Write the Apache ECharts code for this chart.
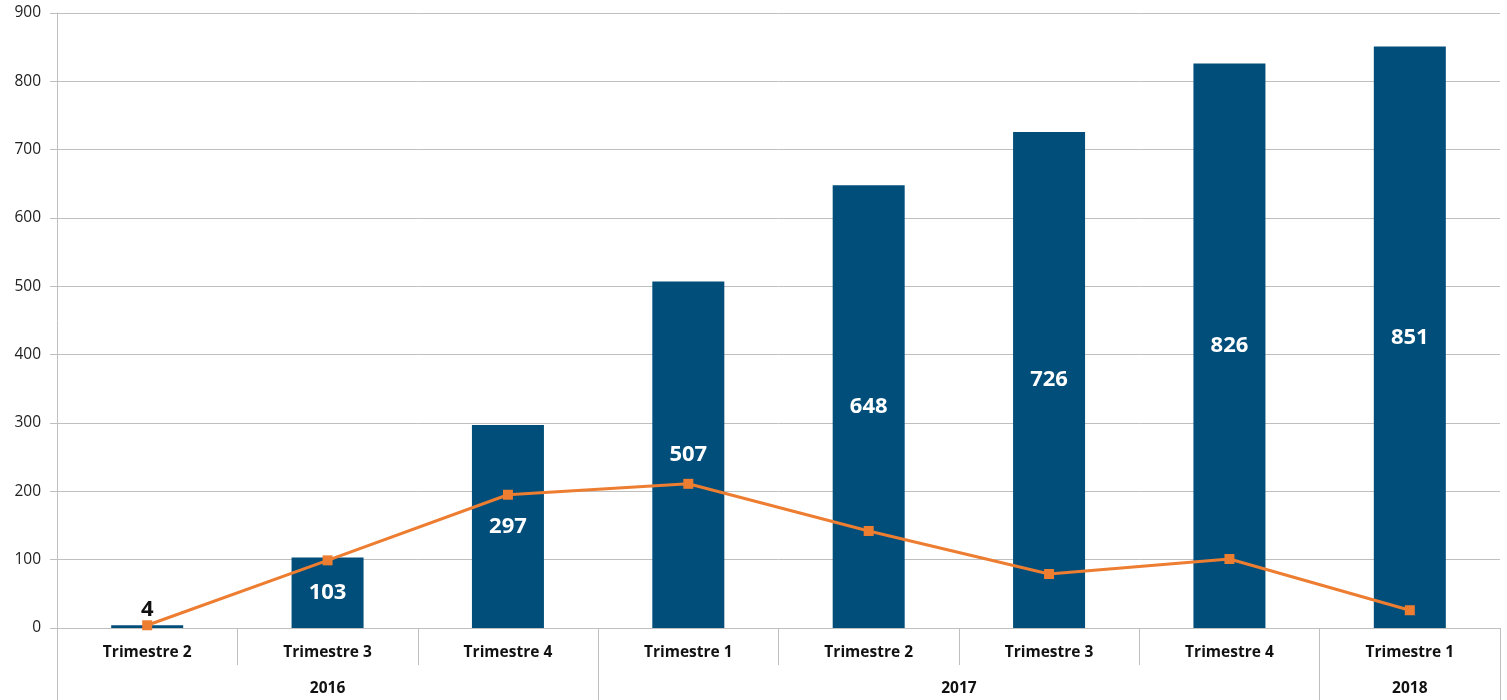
<!DOCTYPE html>
<html>
<head>
<meta charset="utf-8">
<script src="https://cdn.jsdelivr.net/npm/echarts@6/dist/echarts.min.js"></script>
<style>html,body{margin:0;padding:0;background:#fff;}#c{width:1507px;height:700px;}</style>
</head>
<body>
<div id="c"></div>
<script>
const quarters = ['Trimestre 2','Trimestre 3','Trimestre 4','Trimestre 1','Trimestre 2','Trimestre 3','Trimestre 4','Trimestre 1'];
const years = ['2016','2017','2018'];
const yearBounds = [0, 3, 7, 8];
const yearCenters = [1.5, 5, 7.5];
const barValues = [4, 103, 297, 507, 648, 726, 826, 851];
const lineValues = [4, 99, 195, 211, 142, 79, 101, 26];
const yTicks = { min: 0, max: 900, interval: 100 };

const FONT = 'Open Sans';
const chart = echarts.init(document.getElementById('c'));
chart.setOption({
  animation: false,
  grid: { left: 57, right: 7, top: 13, bottom: 72, containLabel: false },
  xAxis: [
    {
      type: 'category', data: quarters, position: 'bottom',
      axisLine: { show: true, lineStyle: { color: '#bfbfbf', width: 1 } },
      axisTick: { show: true, interval: 0, length: 37, lineStyle: { color: '#bfbfbf' } },
      axisLabel: { interval: 0, margin: 17, color: '#111', fontFamily: FONT, fontWeight: 'bold', fontSize: 15.5 }
    },
    {
      type: 'value', min: 0, max: 8, position: 'bottom', gridIndex: 0,
      axisLine: { show: false },
      splitLine: { show: false },
      axisTick: { show: true, length: 72, customValues: yearBounds, lineStyle: { color: '#bfbfbf' } },
      axisLabel: { show: true, margin: 53, customValues: yearCenters, color: '#111', fontFamily: FONT, fontWeight: 'bold', fontSize: 15.5,
        formatter: function (v) { const i = yearCenters.indexOf(v); return i >= 0 ? years[i] : ''; } }
    }
  ],
  yAxis: {
    type: 'value', min: yTicks.min, max: yTicks.max, interval: yTicks.interval,
    axisLine: { show: true, lineStyle: { color: '#bfbfbf' } },
    axisTick: { show: true, length: 7, lineStyle: { color: '#bfbfbf' } },
    splitLine: { show: true, lineStyle: { color: '#bfbfbf', width: 1 } },
    axisLabel: { margin: 16, color: '#222', fontFamily: FONT, fontSize: 15.5 }
  },
  series: [
    {
      type: 'bar', data: barValues.map((v, i) => ({
        value: v,
        label: i === 0 ? { position: 'top', color: '#111', distance: 5 } : undefined
      })),
      xAxisIndex: 0,
      barWidth: 72,
      itemStyle: { color: '#004e79' },
      label: { show: true, position: 'inside', color: '#fff', fontFamily: FONT, fontWeight: 'bold', fontSize: 22 },
      z: 2
    },
    {
      type: 'line', data: lineValues, xAxisIndex: 0,
      symbol: 'rect', symbolSize: 10,
      lineStyle: { color: '#ed7d31', width: 3 },
      itemStyle: { color: '#ed7d31' },
      z: 3
    }
  ]
});
</script>
</body>
</html>
